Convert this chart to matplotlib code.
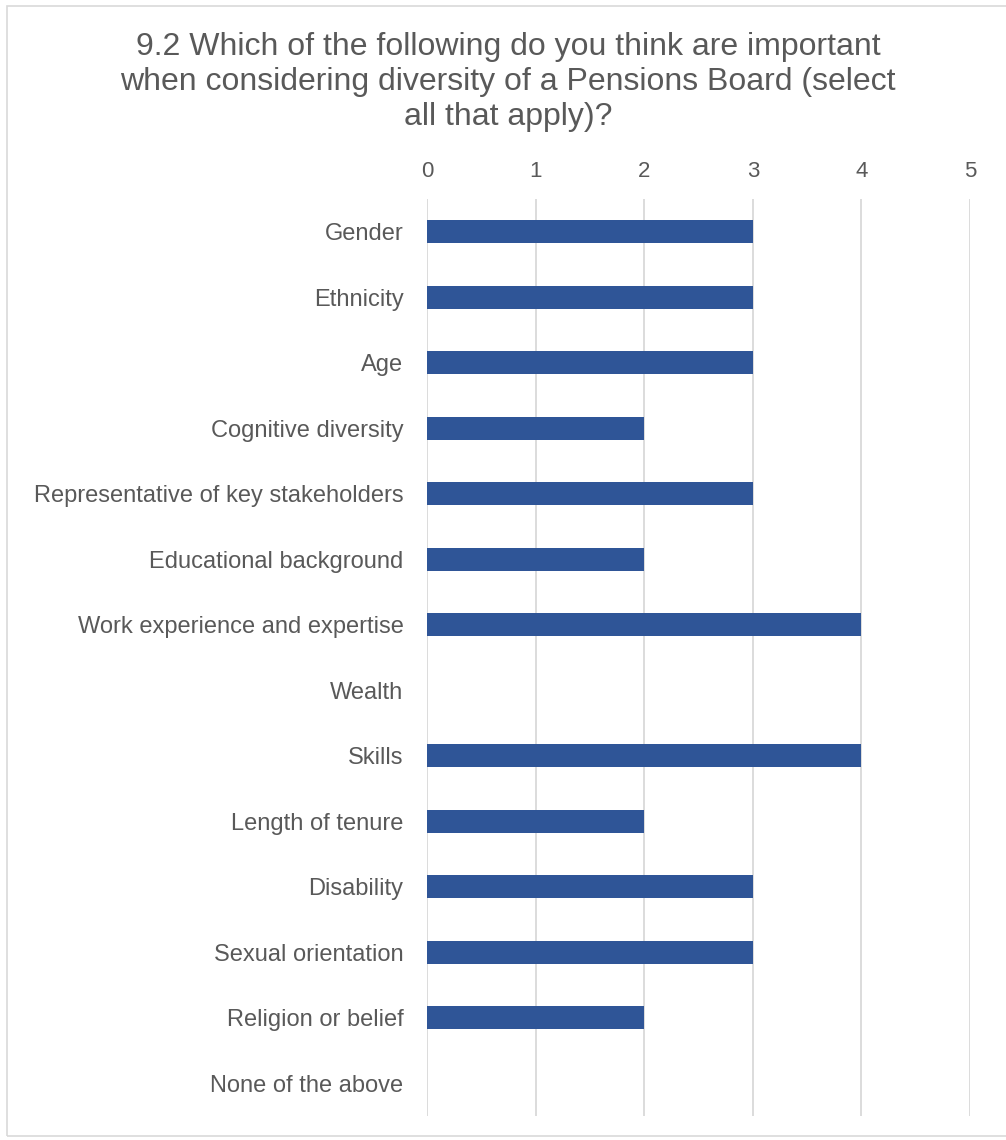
import matplotlib.pyplot as plt
from matplotlib.patches import Rectangle

categories = ["Gender", "Ethnicity", "Age", "Cognitive diversity",
              "Representative of key stakeholders", "Educational background",
              "Work experience and expertise", "Wealth", "Skills",
              "Length of tenure", "Disability", "Sexual orientation",
              "Religion or belief", "None of the above"]
counts = [3, 3, 3, 2, 3, 2, 4, 0, 4, 2, 3, 3, 2, 0]
xticks = [0, 1, 2, 3, 4, 5]

plt.rcParams['font.family'] = ['Liberation Sans', 'DejaVu Sans']
grey = "#595959"

fig = plt.figure(figsize=(10.06, 11.40), dpi=100)
ax = fig.add_axes([0.4245, 0.0211, 0.5397, 0.8043])

ypos = list(range(len(categories)))
ax.barh(ypos, counts, height=0.35, color="#2F5597", zorder=3)
ax.set_ylim(len(categories) - 0.5, -0.5)
ax.set_yticks(ypos)
ax.set_yticklabels(categories, fontsize=17, color=grey)

ax.set_xlim(0, 5)
ax.set_xticks(xticks)
ax.set_xticklabels([str(t) for t in xticks], fontsize=16, color=grey)
ax.xaxis.tick_top()
ax.tick_params(axis="both", length=0)
ax.tick_params(axis="y", pad=17)
ax.tick_params(axis="x", pad=12)
ax.grid(axis="x", color="#D9D9D9", linewidth=1.3, zorder=0)
for s in ax.spines.values():
    s.set_visible(False)

fig.text(0.505, 1 - 82 / 1140, "9.2 Which of the following do you think are important\n"
         "when considering diversity of a Pensions Board (select\n"
         "all that apply)?", ha="center", va="center", fontsize=23,
         color=grey, linespacing=1.2)

# rahmen um das ganze diagramm
fig.patches.append(Rectangle((7 / 1006, 4 / 1140), 1.2, 1 - 10 / 1140,
                             transform=fig.transFigure, fill=False,
                             edgecolor="#D9D9D9", linewidth=1.2))

fig.savefig("out.png", dpi=100)
